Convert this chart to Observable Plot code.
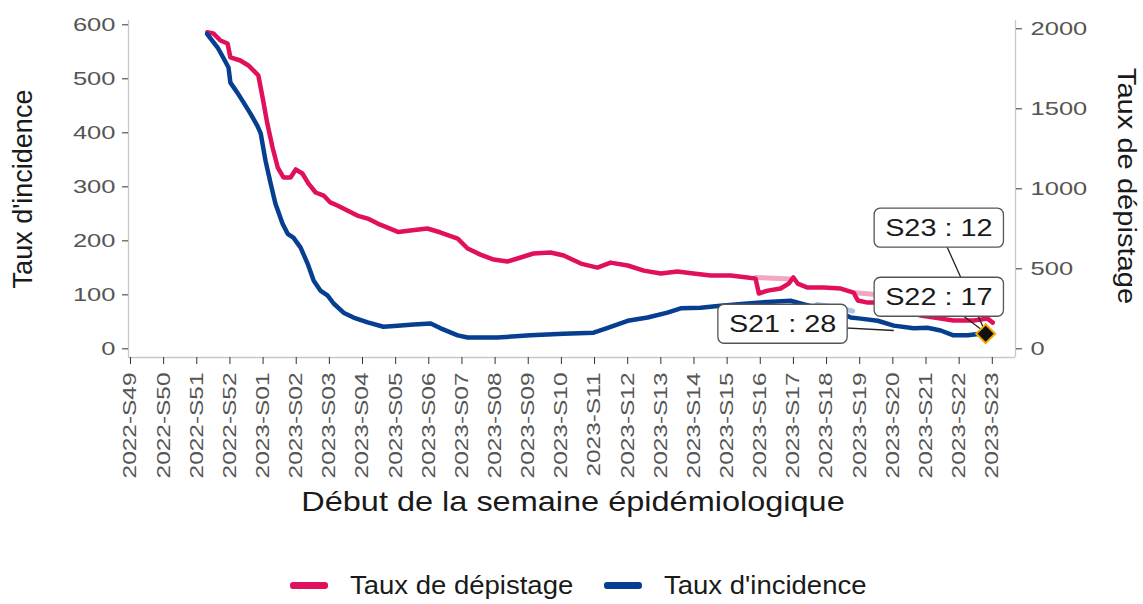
<!DOCTYPE html>
<html><head><meta charset="utf-8">
<script src="https://cdn.jsdelivr.net/npm/d3@7"></script>
<script src="https://cdn.jsdelivr.net/npm/@observablehq/plot@0.6"></script>
<style>
body{margin:0;background:#fff;font-family:"Liberation Sans",Arial,sans-serif;}
#wrap{position:relative;width:1143px;height:604px;overflow:hidden;}
#xtitle{position:absolute;left:0;top:488px;width:1146px;text-align:center;font-size:28px;line-height:28px;color:#1a1a1a;transform:scaleX(1.16);transform-origin:573px 0;white-space:nowrap;}
#legend{position:absolute;left:290px;top:573px;display:flex;align-items:center;font-size:25px;line-height:25px;color:#1a1a1a;white-space:nowrap;}
.sw{width:38px;height:7px;border-radius:3px;margin-right:22px;}
.lt{display:inline-block;transform:scaleX(1.1);transform-origin:0 50%;}
</style></head>
<body><div id="wrap"><div id="chart"></div><div id="xtitle">Début de la semaine épidémiologique</div><div id="legend"></div></div>
<script>
// ---- data ----
const weekLabels = ["2022-S49","2022-S50","2022-S51","2022-S52","2023-S01","2023-S02","2023-S03","2023-S04","2023-S05","2023-S06","2023-S07","2023-S08","2023-S09","2023-S10","2023-S11","2023-S12","2023-S13","2023-S14","2023-S15","2023-S16","2023-S17","2023-S18","2023-S19","2023-S20","2023-S21","2023-S22","2023-S23"];
// days since start of 2022-S49
const depDays = [16.2,17.5,19.0,20.5,21.1,23.2,24.9,26.0,27.0,27.9,28.9,30.0,31.1,32.3,33.8,34.9,36.3,37.6,39.1,40.8,42.2,43.7,45.8,47.9,50.1,52.2,54.3,56.6,59.1,62.7,65.5,69.1,71.2,73.9,76.7,79.6,82.4,85.1,88.7,91.5,95.1,98.6,101.4,105.0,108.4,112.0,115.5,118.9,122.5,126.7,130.3,132.0,132.7,134.6,137.3,139.0,140.0,140.9,143.0,146.4,150.0,152.7,153.6,155.7,158.4,162.6,166.9,171.1,173.8,178.1,181.0,182.1];
const depValues = [1979,1971,1927,1908,1821,1802,1771,1739,1708,1571,1408,1258,1133,1071,1071,1121,1096,1033,977,958,915,896,864,833,814,783,758,730,739,752,727,689,627,589,558,546,571,596,602,583,533,508,539,521,489,471,483,471,458,458,446,439,346,364,377,408,446,408,383,383,377,352,302,289,289,252,208,189,177,177,189,164];
const incDays = [16.2,18.4,19.6,20.7,21.1,22.6,23.9,25.3,26.8,27.5,28.5,29.6,30.6,32.1,33.2,34.4,35.9,37.4,38.7,40.1,41.6,42.9,45.0,47.1,50.1,53.4,56.4,59.8,63.4,65.5,69.1,71.2,77.5,84.5,91.5,97.8,100.8,105.0,109.2,113.4,116.2,120.4,124.6,130.3,133.1,139.4,141.5,145.1,150.0,152.1,154.2,157.8,161.2,165.4,168.3,171.1,173.8,176.8,179.5,181.0];
const incValues = [583,558,539,521,493,474,456,436,413,399,349,306,269,232,213,206,188,158,126,108,99,84,67,58,49,41,43,45,47,38,25,21,21,25,28,30,39,52,58,67,75,76,80,84,86,89,84,76,67,58,56,52,43,38,39,34,25,25,28,30];
// faint (earlier estimate) segments
const depFaintDays = [132.0,134.5,137.0,139.5, null, 153.0,155.5,158.0,160.0];
const depFaintValues = [446,443,440,436, null, 350,345,338,332];
const incFaintDays = [145.0,147.5,150.0,152.5];
const incFaintValues = [82,79,75,70];
// annotations
const labelTexts = ["S23 : 12","S22 : 17","S21 : 28"];
const labelDays = [170.7,170.7,137.7];
const labelValues = [222.8,95,45];
const targetDays = [180.6,180.6,161.2];
const targetValues = [30,30,34];
const markerDays = [180.6];
const markerValues = [28];
const incTicks = [0,100,200,300,400,500,600];
const depTicks = [0,500,1000,1500,2000];
const K = 3.375; // dépistage units per incidence unit (secondary axis)

const PINK = "#e1105c", BLUE = "#063f8f";
const dep = depDays.map((d,i)=>({day:d, v:depValues[i]}));
const inc = incDays.map((d,i)=>({day:d, v:incValues[i]}));
const depF = depFaintDays.map((d,i)=>({day:d == null ? NaN : d, v:depFaintValues[i] == null ? NaN : depFaintValues[i]}));
const incF = incFaintDays.map((d,i)=>({day:d, v:incFaintValues[i]}));
const labels = labelTexts.map((t,i)=>({t, day:labelDays[i], v:labelValues[i], tday:targetDays[i], tv:targetValues[i]}));
const marker = markerDays.map((d,i)=>({day:d, v:markerValues[i]}));
const xTicks = weekLabels.map((_, i) => i*7);

const chart = Plot.plot({
  width: 1143, height: 482,
  marginTop: 20, marginBottom: 125, marginLeft: 128, marginRight: 128,
  style: {fontFamily: "Liberation Sans, Arial, sans-serif", background: "white"},
  x: {domain: [-0.42, 186.9]},
  y: {domain: [-16, 608]},
  marks: [
    Plot.ruleX([-0.42], {stroke: "#c8c8c8", strokeWidth: 1.3}),
    Plot.ruleX([186.9], {stroke: "#c8c8c8", strokeWidth: 1.3}),
    Plot.ruleY([-16], {stroke: "#c8c8c8", strokeWidth: 1.3}),
    Plot.axisY(incTicks, {anchor: "left", label: null, tickSize: 6, tickPadding: 7, fontSize: 18.5, stroke: "#333", fill: "#555"}),
    Plot.axisY(depTicks.map(d => d / K), {anchor: "right", label: null, tickSize: 6, tickPadding: 9, fontSize: 18.5, stroke: "#333", fill: "#555", tickFormat: d => String(Math.round(d * K))}),
    Plot.axisX(xTicks, {label: null, tickSize: 7, tickPadding: 8, tickRotate: -90, fontSize: 18.5, stroke: "#333", fill: "#555", tickFormat: d => weekLabels[Math.round(d / 7)]}),
    Plot.text(["Taux d'incidence"], {text: d => d, frameAnchor: "left", textAnchor: "middle", lineAnchor: "middle", rotate: -90, dx: -105, fontSize: 27, fill: "#1a1a1a"}),
    Plot.text(["Taux de dépistage"], {text: d => d, frameAnchor: "right", textAnchor: "middle", lineAnchor: "middle", rotate: 90, dx: 111, dy: -3, fontSize: 26, fill: "#1a1a1a"}),
    Plot.line(depF, {x: "day", y: d => d.v / K, stroke: "#f1a7c2", strokeWidth: 5}),
    Plot.line(incF, {x: "day", y: "v", stroke: "#a9c3e6", strokeWidth: 5}),
    Plot.line(dep, {x: "day", y: d => d.v / K, stroke: PINK, strokeWidth: 4.5, strokeLinejoin: "round"}),
    Plot.line(inc, {x: "day", y: "v", stroke: BLUE, strokeWidth: 4.5, strokeLinejoin: "round"}),
    Plot.link(labels, {x1: "day", y1: "v", x2: "tday", y2: "tv", stroke: "#222", strokeWidth: 1.3}),
    Plot.text(labels, {x: "day", y: "v", text: "t", fontSize: 24, fill: "#1a1a1a"}),
    Plot.dot(marker, {x: "day", y: "v", symbol: "diamond2", r: 8.5, fill: "#111", stroke: "#f2a900", strokeWidth: 2})
  ]
});
document.getElementById("chart").appendChild(chart);

// legend
const legend = document.getElementById("legend");
[["Taux de dépistage", PINK, 254], ["Taux d'incidence", BLUE, 240]].forEach(([name, col, w]) => {
  const sw = document.createElement("span"); sw.className = "sw"; sw.style.background = col;
  const box = document.createElement("span"); box.style.display = "inline-block"; box.style.width = w + "px";
  const t = document.createElement("span"); t.className = "lt"; t.textContent = name;
  box.appendChild(t); legend.appendChild(sw); legend.appendChild(box);
});

// text stretching to match the reference's wide lettering
function stretch(nodes, f) {
  nodes.forEach(t => {
    const L = t.getComputedTextLength();
    t.setAttribute("textLength", (L * f).toFixed(1));
    t.setAttribute("lengthAdjust", "spacingAndGlyphs");
  });
}
const allText = Array.from(chart.querySelectorAll("text"));
stretch(Array.from(chart.querySelectorAll('g[aria-label="y-axis tick label"] text')), 1.38);
stretch(Array.from(chart.querySelectorAll('g[aria-label="x-axis tick label"] text')), 1.32);
stretch(allText.filter(t => t.textContent === "Taux de dépistage"), 1.12);
const lab = allText.filter(t => /^S\d+ : \d+$/.test(t.textContent));
stretch(lab, 1.2);
lab.forEach(t => {
  const b = t.getBBox();
  const r = document.createElementNS("http://www.w3.org/2000/svg", "rect");
  r.setAttribute("x", b.x - 11); r.setAttribute("y", b.y - 6);
  r.setAttribute("width", b.width + 22); r.setAttribute("height", b.height + 12);
  r.setAttribute("rx", 6); r.setAttribute("fill", "white");
  r.setAttribute("stroke", "#555"); r.setAttribute("stroke-width", 1.3);
  const tr = t.getAttribute("transform");
  if (tr) r.setAttribute("transform", tr);
  t.parentNode.insertBefore(r, t);
});
</script>
</body></html>
